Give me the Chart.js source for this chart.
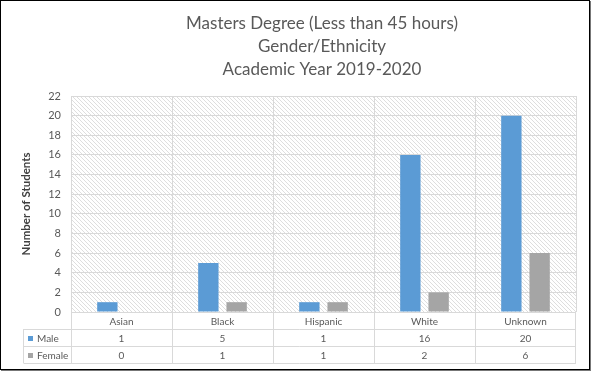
<!DOCTYPE html>
<html>
<head>
<meta charset="utf-8">
<script src="https://cdn.jsdelivr.net/npm/chart.js@4"></script>
<style>
  html, body { margin: 0; padding: 0; background: #fff; }
  .wrap { position: relative; width: 592px; height: 373px; }
  .frame {
    position: absolute; left: 0; top: 0; width: 588px; height: 368px;
    border: 1px solid #000; box-shadow: 1px 1px 0 #777; pointer-events: none;
  }
  canvas { position: absolute; left: 0; top: 0; }
</style>
</head>
<body>
<div class="wrap">
  <canvas id="chart" width="592" height="373"></canvas>
  <div class="frame"></div>
</div>
<script>
const CATEGORIES = ['Asian', 'Black', 'Hispanic', 'White', 'Unknown'];
const MALE = [1, 5, 1, 16, 20];
const FEMALE = [0, 1, 1, 2, 6];
const SERIES_LABELS = ['Male', 'Female'];
const TITLE_LINES = ['Masters Degree (Less than 45 hours)', 'Gender/Ethnicity', 'Academic Year 2019-2020'];
const Y_MAX = 22;
const Y_STEP = 2;

const COLORS = {
  male: '#5b9bd5',
  female: '#a5a5a5',
  grid: '#d9d9d9',
  text: '#595959'
};
const FONT = 'Lato, "Open Sans", sans-serif';

// diagonal hatch used as plot background
function makeHatch () {
  let c = document.createElement('canvas')
  c.width = 4
  c.height = 4
  let g = c.getContext('2d')
  g.strokeStyle = '#d6d6d6'
  g.lineWidth = 0.8
  g.beginPath()
  g.moveTo(-1, -1); g.lineTo(5, 5)
  g.moveTo(-1, 3); g.lineTo(1, 5)
  g.moveTo(3, -1); g.lineTo(5, 1)
  g.stroke()
  return g.createPattern(c, 'repeat')
}

const hatchPlugin = {
  id: 'hatch',
  beforeDraw (chart) {
    const { ctx, chartArea: a } = chart
    ctx.save()
    ctx.fillStyle = '#fff'
    ctx.fillRect(0, 0, chart.width, chart.height)
    ctx.fillStyle = makeHatch()
    ctx.fillRect(a.left, a.top, a.right - a.left, a.bottom - a.top)

    // title, centred a bit right of the canvas like the original
    ctx.font = '17px ' + FONT
    ctx.fillStyle = COLORS.text
    ctx.textAlign = 'center'
    ctx.textBaseline = 'middle'
    TITLE_LINES.forEach((line, i) => ctx.fillText(line, 322, 24 + i * 22.7))
    ctx.restore()
  }
}

// data table under the plot, column edges taken from the x scale
const tablePlugin = {
  id: 'dataTable',
  afterDraw (chart) {
    const { ctx, chartArea: a } = chart,
      x = chart.scales.x,
      rowH = 17,
      top = a.bottom,
      rows = [top, top + rowH, top + rowH * 2, top + rowH * 3],
      labelLeft = 23.5,
      half = (x.getPixelForValue(1) - x.getPixelForValue(0)) / 2

    ctx.save()
    ctx.strokeStyle = COLORS.grid
    ctx.lineWidth = 1
    ctx.beginPath()
    ctx.moveTo(a.left, Math.round(rows[0]) + 0.5); ctx.lineTo(a.right, Math.round(rows[0]) + 0.5)
    for (let i = 1; i < rows.length; i++) {
      ctx.moveTo(labelLeft, Math.round(rows[i]) + 0.5)
      ctx.lineTo(a.right, Math.round(rows[i]) + 0.5)
    }
    CATEGORIES.forEach((c, i) => {
      let px = Math.round(x.getPixelForValue(i) - half) + 0.5
      ctx.moveTo(px, rows[0]); ctx.lineTo(px, rows[3])
    })
    let rx = Math.round(a.right) - 0.5
    ctx.moveTo(rx, rows[0]); ctx.lineTo(rx, rows[3])
    ctx.moveTo(labelLeft, rows[1]); ctx.lineTo(labelLeft, rows[3])
    ctx.stroke()

    ctx.font = '10px ' + FONT
    ctx.fillStyle = COLORS.text
    ctx.textAlign = 'center'
    ctx.textBaseline = 'middle'
    CATEGORIES.forEach((c, i) => {
      let cx = x.getPixelForValue(i)
      ctx.fillText(c, cx, rows[0] + rowH / 2 + 1)
      chart.data.datasets.forEach((ds, d) => {
        ctx.fillText(String(ds.data[i]), cx, rows[d + 1] + rowH / 2 + 1)
      })
    })

    ctx.textAlign = 'left'
    chart.data.datasets.forEach((ds, d) => {
      let cy = rows[d + 1] + rowH / 2
      ctx.fillStyle = ds.backgroundColor
      ctx.fillRect(28, Math.round(cy) - 2, 5, 5)
      ctx.fillStyle = COLORS.text
      ctx.fillText(ds.label, 37, cy + 1)
    })
    ctx.restore()
  }
}

const ctx = document.getElementById('chart').getContext('2d')
const chart = new Chart(ctx, {
  type: 'bar',
  data: {
    labels: CATEGORIES,
    datasets: [
      { label: SERIES_LABELS[0], data: MALE, backgroundColor: COLORS.male },
      { label: SERIES_LABELS[1], data: FEMALE, backgroundColor: COLORS.female }
    ]
  },
  options: {
    responsive: false,
    animation: false,
    devicePixelRatio: 1,
    categoryPercentage: 0.56,
    barPercentage: 0.72,
    layout: { padding: { left: 0, right: 16, top: 96, bottom: 10 } },
    plugins: {
      legend: { display: false },
      tooltip: { enabled: false },
      title: { display: false }
    },
    scales: {
      x: {
        offset: true,
        grid: { color: COLORS.grid, offset: true, drawTicks: false },
        border: { display: false },
        ticks: { display: false },
        afterFit (scale) { scale.height = 51 }
      },
      y: {
        min: 0,
        max: Y_MAX,
        ticks: {
          stepSize: Y_STEP,
          padding: 10,
          color: COLORS.text,
          font: { family: FONT, size: 11 }
        },
        grid: { color: COLORS.grid, drawTicks: false },
        border: { display: false },
        title: {
          display: true,
          text: 'Number of Students',
          color: '#404040',
          font: { family: FONT, size: 11.5, weight: 'bold' },
          padding: { top: 19, bottom: 0 }
        },
        afterFit (scale) { scale.width = 71 }
      }
    }
  },
  plugins: [hatchPlugin, tablePlugin]
})
</script>
</body>
</html>
